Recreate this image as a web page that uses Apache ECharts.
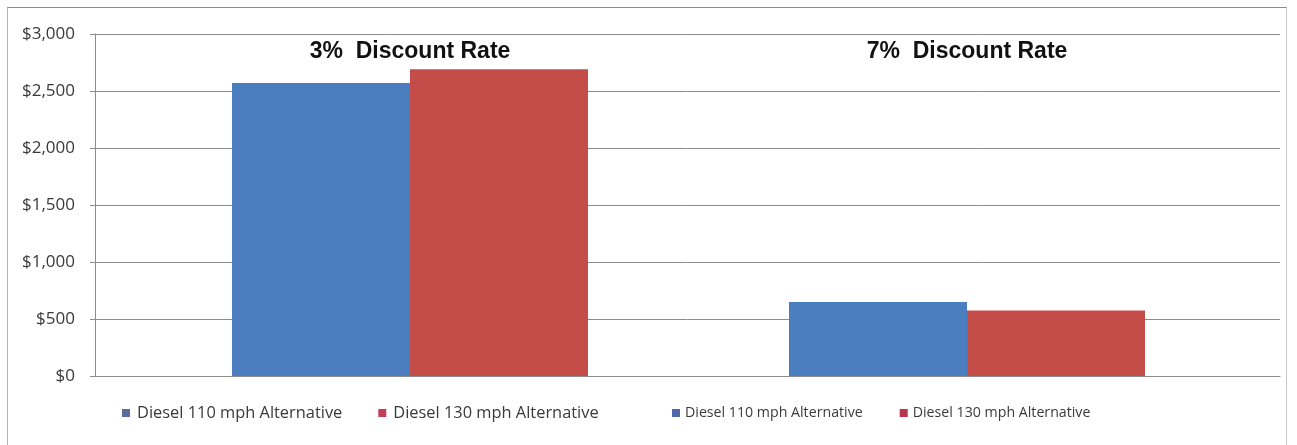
<!DOCTYPE html>
<html>
<head>
<meta charset="utf-8">
<title>Discount Rate Comparison</title>
<script src="https://cdn.jsdelivr.net/npm/echarts@6/dist/echarts.min.js"></script>
<style>
  html, body { margin: 0; padding: 0; background: #ffffff; }
  #frame {
    position: absolute; left: 7px; top: 7px; width: 1278px; height: 460px;
    border-top: 1px solid #8a8a8a; border-left: 1px solid #b4b4b4; border-right: 1px solid #c8c8c8;
  }
  #chart { position: absolute; left: 0; top: 0; width: 1297px; height: 445px; }
</style>
</head>
<body>
<div id="frame"></div>
<div id="chart"></div>
<script>
// Category labels (drawn across the top of the plot)
const categories = ['3%  Discount Rate', '7%  Discount Rate'];

// Series names
const seriesNames = ['Diesel 110 mph Alternative', 'Diesel 130 mph Alternative'];

// Values in dollars, one per discount rate
const diesel110 = [2570, 650];
const diesel130 = [2690, 575];

// Value axis ticks
const yMin = 0;
const yMax = 3000;
const yStep = 500;

const blue = '#4a7ebf';
const red = '#c44d4a';

const chart = echarts.init(document.getElementById('chart'), null, { renderer: 'canvas' });

const fmtDollar = v => '$' + v.toLocaleString('en-US');

chart.setOption({
  animation: false,
  backgroundColor: 'transparent',
  grid: [
    // value axis and gridlines
    { left: 95, right: 17, top: 34, bottom: 69, containLabel: false },
    // bars and category labels
    { left: 131.5, right: 51.5, top: 34, bottom: 69, containLabel: false }
  ],
  xAxis: [
    {
      gridIndex: 0, type: 'category', data: categories,
      axisLine: { show: true, lineStyle: { color: '#8c8c8c', width: 1 } },
      axisTick: { show: false }, axisLabel: { show: false }, splitLine: { show: false }
    },
    {
      gridIndex: 1, type: 'category', data: categories, position: 'top',
      axisLine: { show: false }, axisTick: { show: false }, splitLine: { show: false },
      axisLabel: {
        inside: true, margin: 6,
        fontFamily: 'Liberation Sans', fontWeight: 'bold', fontSize: 23, color: '#111111'
      }
    }
  ],
  yAxis: [
    {
      gridIndex: 0, type: 'value', min: yMin, max: yMax, interval: yStep,
      axisLine: { show: true, lineStyle: { color: '#8c8c8c', width: 1 } },
      axisTick: { show: true, length: 5, lineStyle: { color: '#8c8c8c' } },
      splitLine: { show: true, lineStyle: { color: '#8c8c8c', width: 1 } },
      axisLabel: {
        formatter: fmtDollar, margin: 20,
        fontFamily: 'Open Sans', fontSize: 17, color: '#3a3a3a'
      }
    },
    {
      gridIndex: 1, type: 'value', min: yMin, max: yMax, interval: yStep, show: false
    }
  ],
  legend: [
    {
      left: 122, top: 405, padding: 0, itemWidth: 8, itemHeight: 8, itemGap: 36,
      icon: 'rect',
      textStyle: { fontFamily: 'Open Sans', fontSize: 16.4, color: '#3a3a3a', padding: [0, 0, 0, 2] },
      data: [
        { name: seriesNames[0], itemStyle: { color: '#5a6e9c' } },
        { name: seriesNames[1], itemStyle: { color: '#c23e5b' } }
      ]
    },
    {
      left: 672, top: 406, padding: 0, itemWidth: 8, itemHeight: 8, itemGap: 37,
      icon: 'rect',
      textStyle: { fontFamily: 'Open Sans', fontSize: 14.2, color: '#3a3a3a', padding: [0, 0, 0, 0] },
      data: [
        { name: seriesNames[0], itemStyle: { color: '#4f6aa6' } },
        { name: seriesNames[1], itemStyle: { color: '#b8364e' } }
      ]
    }
  ],
  series: [
    {
      name: seriesNames[0], type: 'bar', xAxisIndex: 1, yAxisIndex: 1,
      data: diesel110, barWidth: 178, barGap: '0%',
      itemStyle: { color: blue }
    },
    {
      name: seriesNames[1], type: 'bar', xAxisIndex: 1, yAxisIndex: 1,
      data: diesel130, barWidth: 178, barGap: '0%',
      itemStyle: { color: red }
    }
  ]
});
</script>
</body>
</html>
